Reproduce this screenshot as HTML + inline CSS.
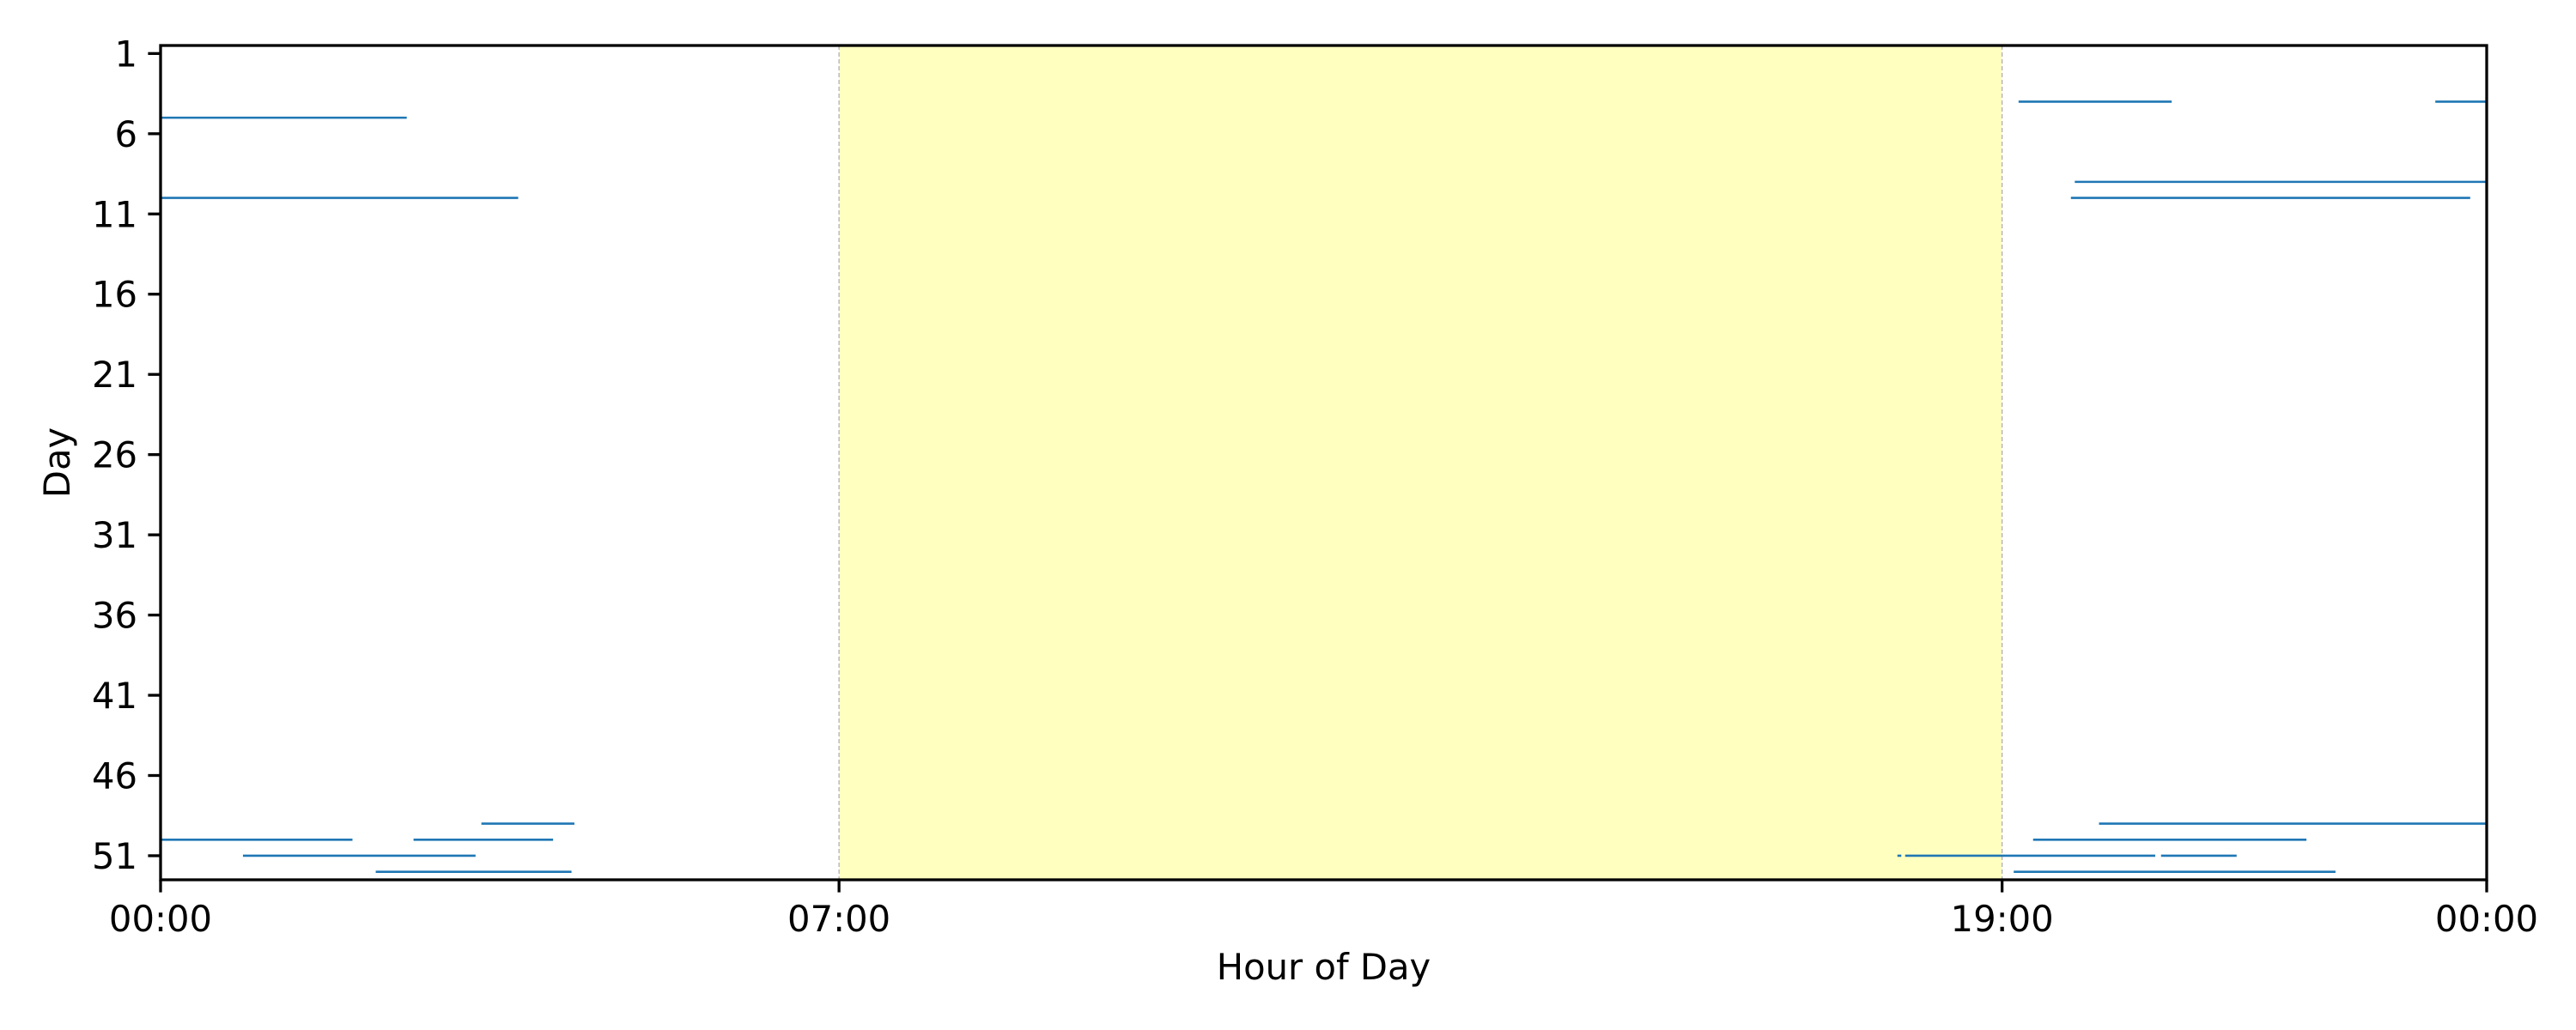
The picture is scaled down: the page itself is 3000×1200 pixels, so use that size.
<!DOCTYPE html>
<html><head><meta charset="utf-8"><style>body{margin:0;background:#fff}svg{display:block}text{font-family:"DejaVu Sans","Liberation Sans",sans-serif;fill:#000}</style></head>
<body>
<svg id="chart" width="3000" height="1200" viewBox="0 0 3000 1200" xmlns="http://www.w3.org/2000/svg">
<rect width="3000" height="1200" fill="#fff"/>
<g id="plot"></g>
</svg>
<script>
const segDays   = [5, 10, 4, 4, 9, 10, 49, 49, 50, 50, 50, 51, 51, 51, 51, 52, 52];
const segStarts = [0, 0, 19.17, 23.47, 19.75, 19.71, 3.31, 20.0, 0, 2.61, 19.32, 0.85, 17.92, 18.0, 20.64, 2.22, 19.12];
const segEnds   = [2.54, 3.69, 20.75, 24, 24, 23.83, 4.27, 24, 1.98, 4.05, 22.14, 3.25, 17.96, 20.58, 21.42, 4.24, 22.44];
const yTicks = [1, 6, 11, 16, 21, 26, 31, 36, 41, 46, 51];
const xTicks = [0, 7, 19, 24];
const xTickLabels = ["00:00", "07:00", "19:00", "00:00"];
const daySpan = [7, 19];

const L = 187, R = 2896, T = 53, B = 1025;
const xs = h => L + (h / 24) * (R - L);
const ys = d => T + (d - 0.5) / 52 * (B - T);
const NS = "http://www.w3.org/2000/svg";
const g = document.getElementById('plot');
function mk(tag, attrs, parent) {
  const e = document.createElementNS(NS, tag);
  for (const k in attrs) e.setAttribute(k, attrs[k]);
  (parent || g).appendChild(e);
  return e;
}
let e;
e = mk('rect', {x: xs(daySpan[0]), y: T, width: xs(daySpan[1]) - xs(daySpan[0]), height: B - T, fill: '#ffffc0'});


daySpan.forEach(h => {
  e = mk('line', {x1: xs(h), x2: xs(h), y1: T, y2: B, stroke: '#aaa', 'stroke-width': 1.2, 'stroke-dasharray': '5 3'});
  
  
});
for (let i = 0; i < segDays.length; i++) {
  e = mk('line', {x1: xs(segStarts[i]), x2: xs(segEnds[i]), y1: ys(segDays[i]), y2: ys(segDays[i]), stroke: '#1f77b4', 'stroke-width': 2.6});
  
  
}
e = mk('rect', {x: L, y: T, width: R - L, height: B - T, fill: 'none', stroke: '#000', 'stroke-width': 3.3});


yTicks.forEach(d => {
  e = mk('line', {x1: L - 14.6, x2: L, y1: ys(d), y2: ys(d), stroke: '#000', 'stroke-width': 3.3});
  
  
  e = mk('text', {x: L - 27, y: ys(d) + 15, 'text-anchor': 'end', 'font-size': 41.7});
  e.textContent = d;
  
  
});
xTicks.forEach((h, i) => {
  e = mk('line', {x1: xs(h), x2: xs(h), y1: B, y2: B + 14.6, stroke: '#000', 'stroke-width': 3.3});
  
  
  e = mk('text', {x: xs(h), y: B + 60, 'text-anchor': 'middle', 'font-size': 41.7});
  e.textContent = xTickLabels[i];
  
  
});
e = mk('text', {x: (L + R) / 2, y: 1141, 'text-anchor': 'middle', 'font-size': 41.7});
e.textContent = 'Hour of Day';


e = mk('text', {x: 0, y: 0, 'text-anchor': 'middle', 'font-size': 41.7, transform: 'translate(81,' + ((T + B) / 2) + ') rotate(-90)'});
e.textContent = 'Day';


</script>
</body></html>
